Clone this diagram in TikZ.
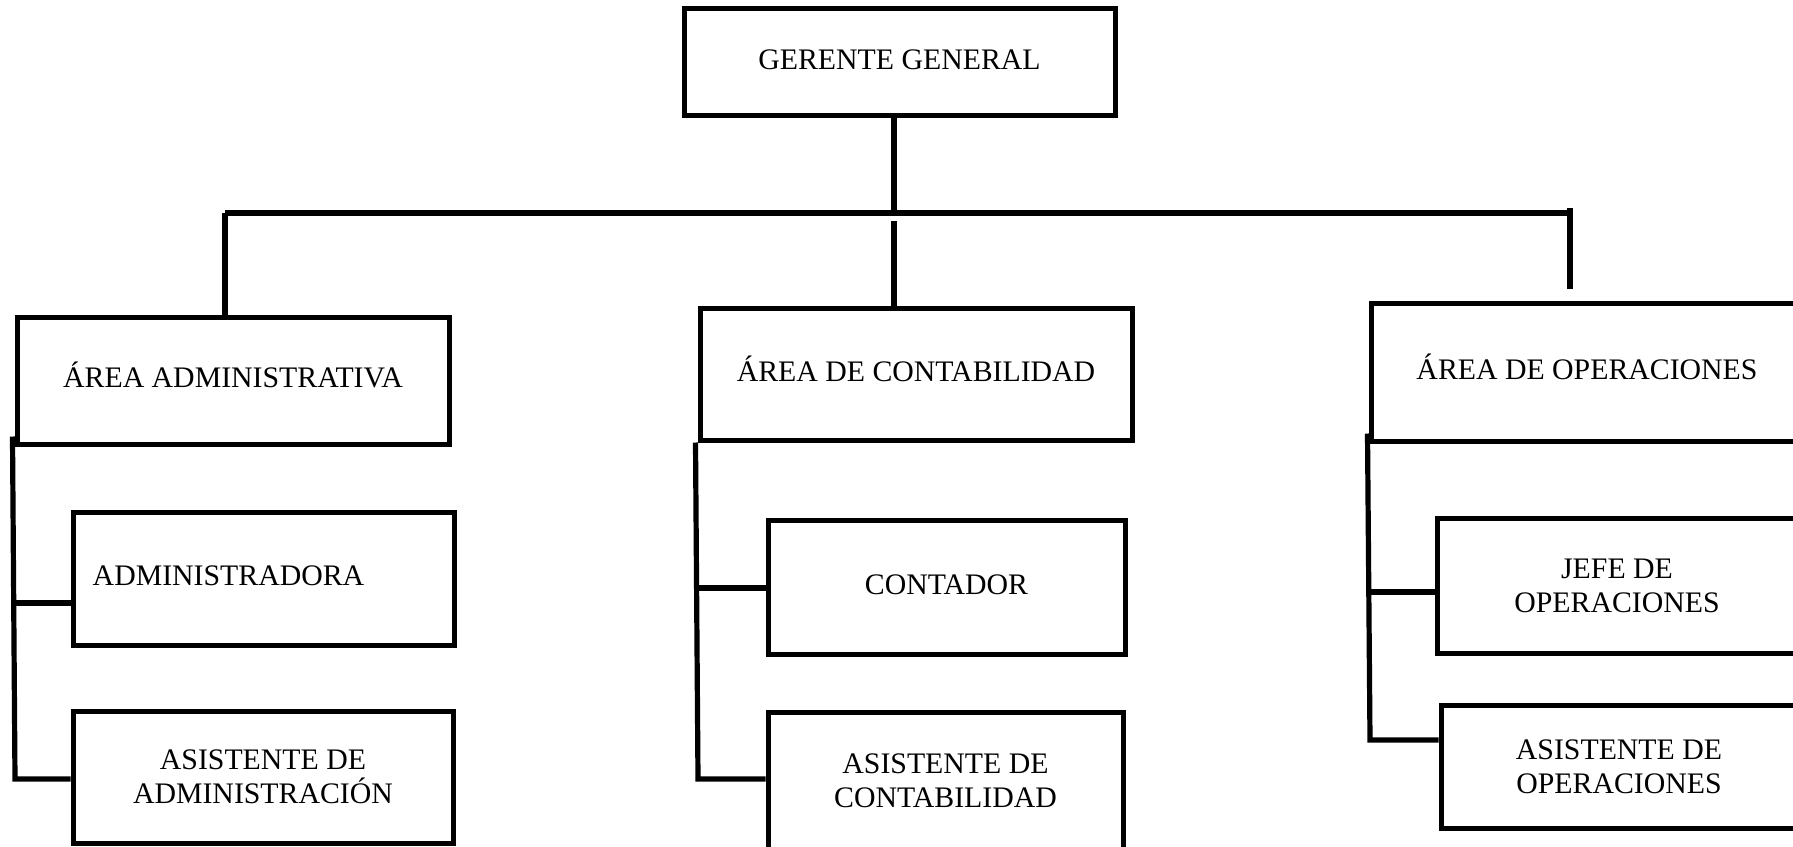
\documentclass[tikz,border=0pt]{standalone}
\usepackage{fontspec}
\setmainfont{Liberation Serif}
\begin{document}
\begin{tikzpicture}[x=0.5pt,y=-0.5pt,
  orgbox/.style={draw=black, line width=2.5pt, fill=white, inner sep=0pt, align=center,
    font=\fontsize{14.9}{17}\selectfont},
  oneline/.style={text height=7.4pt, text depth=0pt},
  link/.style={draw=black, line width=2.6pt}]
\useasboundingbox (0,0) rectangle (1793,846);
% boxes
\node[orgbox, oneline, minimum width=215.5pt, minimum height=53.5pt] (G)  at (899.5,62)  {GERENTE GENERAL};
\node[orgbox, oneline, minimum width=216pt,   minimum height=63.5pt] (A)  at (233,380.5) {ÁREA ADMINISTRATIVA};
\node[orgbox, oneline, minimum width=216pt,   minimum height=66pt]   (C)  at (916,374)   {ÁREA DE CONTABILIDAD};
\node[orgbox, oneline, minimum width=216pt,   minimum height=69pt]   (O)  at (1587,372)  {ÁREA DE OPERACIONES};
\node[orgbox, oneline, minimum width=190.5pt, minimum height=66.5pt] (AD) at (263.5,578.5) {ADMINISTRADORA\hspace*{35pt}};
\node[orgbox, minimum width=190pt,   minimum height=66pt]   (AA) at (263,777)   {ASISTENTE DE\\ADMINISTRACIÓN};
\node[orgbox, oneline, minimum width=178.5pt, minimum height=67pt]   (CC) at (946.5,587) {CONTADOR};
\node[orgbox, minimum width=177.5pt, minimum height=69pt]   (CA) at (945.5,781) {ASISTENTE DE\\CONTABILIDAD};
\node[orgbox, minimum width=180pt,   minimum height=67.5pt] (OJ) at (1617,585.5) {JEFE DE\\OPERACIONES};
\node[orgbox, minimum width=178pt,   minimum height=61.5pt] (OA) at (1619,766.5) {ASISTENTE DE\\OPERACIONES};
% top connectors
\coordinate (hub) at (894,213);
\coordinate (hl) at (225,213);
\coordinate (hr) at (1570,213);
\coordinate (cdrop) at (894,221);
\coordinate (rend) at (1570,289);
\draw[link] (G.south -| hub) -- (hub);
\draw[link] (hl) -- (hr);
\draw[link] (hl) -- (hl |- A.north);
\draw[link] (cdrop) -- (cdrop |- C.north);
\draw[link] (hr) ++(0,-5) -- (rend);
% administrative branch
\coordinate (ab1) at (15,603);
\coordinate (ab2) at (15,779);
\draw[link] (A.south west) ++(-2,-10) -- (ab2) -- (ab2 -| AA.west);
\draw[link] (ab1) -- (ab1 -| AD.west);
% accounting branch
\coordinate (cb1) at (698,588);
\coordinate (cb2) at (698,779);
\draw[link] (C.south west) ++(-2,0) -- (cb2) -- (cb2 -| CA.west);
\draw[link] (cb1) -- (cb1 -| CC.west);
% operations branch
\coordinate (ob1) at (1370,592);
\coordinate (ob2) at (1370,740);
\draw[link] (O.south west) ++(-1,-10) -- (ob2) -- (ob2 -| OA.west);
\draw[link] (ob1) ++(-4,0) -- (ob1 -| OJ.west);
\end{tikzpicture}
\end{document}
